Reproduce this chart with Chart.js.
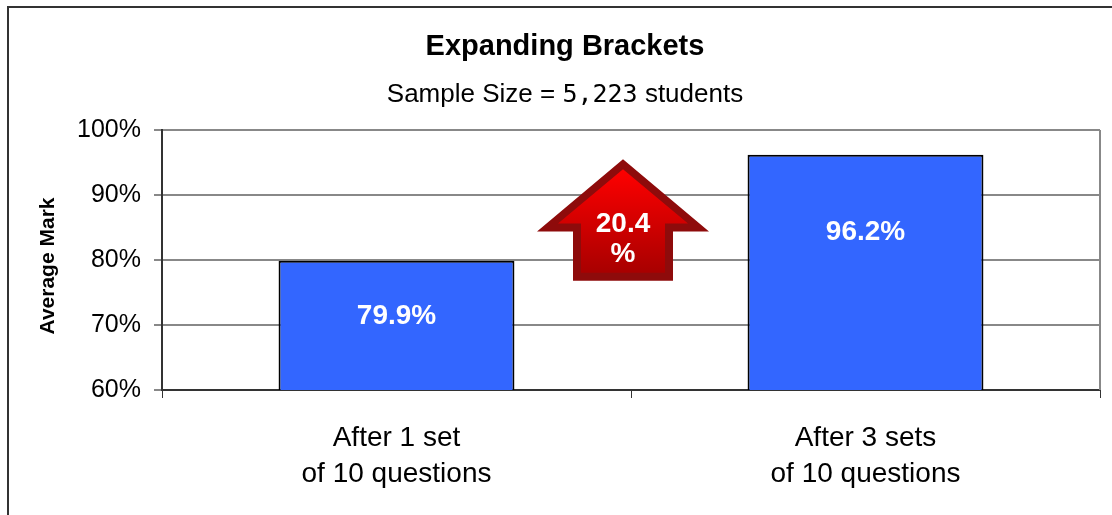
<!DOCTYPE html>
<html>
<head>
<meta charset="utf-8">
<script src="https://cdn.jsdelivr.net/npm/chart.js@4/dist/chart.umd.min.js"></script>
<style>
  html, body { margin: 0; padding: 0; background: #fff; }
  #wrap { width: 1112px; height: 515px; position: relative; }
</style>
</head>
<body>
<div id="wrap"><canvas id="myChart"></canvas></div>
<script>
// data
const categories = [['After 1 set', 'of 10 questions'], ['After 3 sets', 'of 10 questions']];
const averageMark = [79.9, 96.2];
const yTicks = [60, 70, 80, 90, 100];
const chartTitle = 'Expanding Brackets';
const subtitleParts = ['Sample Size = ', '5,223', ' students'];

const SANS = '"Liberation Sans", Arial, sans-serif';

// подписи, рамка, стрелка
const extras = {
  id: 'extras',
  beforeDraw(chart) {
    const c = chart.ctx;
    c.save();
    c.fillStyle = '#fff';
    c.fillRect(0, 0, chart.width, chart.height);
    // outer frame
    c.strokeStyle = '#333';
    c.lineWidth = 2;
    c.beginPath();
    c.moveTo(8, chart.height + 2);
    c.lineTo(8, 7);
    c.lineTo(chart.width + 2, 7);
    c.stroke();
    c.restore();
  },
  afterDatasetsDraw(chart) {
    const c = chart.ctx;
    const x = chart.scales.x, y = chart.scales.y;
    const area = chart.chartArea;
    c.save();

    // right border of plot
    c.strokeStyle = '#888';
    c.lineWidth = 2;
    c.beginPath();
    c.moveTo(area.right, area.top);
    c.lineTo(area.right, area.bottom);
    c.stroke();

    // title
    c.fillStyle = '#000';
    c.textAlign = 'center';
    c.textBaseline = 'middle';
    c.font = 'bold 29px ' + SANS;
    c.fillText(chartTitle, 565, 47);

    // subtitle, number in a monospace face
    const fonts = ['26px ' + SANS, '25px "DejaVu Sans Mono", monospace', '26px ' + SANS];
    let total = 0;
    const widths = subtitleParts.map((t, i) => { c.font = fonts[i]; const w = c.measureText(t).width; total += w; return w; });
    let sx = 565 - total / 2;
    c.textAlign = 'left';
    subtitleParts.forEach((t, i) => { c.font = fonts[i]; c.fillText(t, sx, 95); sx += widths[i]; });

    // y axis title
    c.save();
    c.translate(48, 266);
    c.rotate(-Math.PI / 2);
    c.textAlign = 'center';
    c.font = 'bold 21px ' + SANS;
    c.fillText('Average Mark', 0, 0);
    c.restore();

    // value labels inside bars
    const labelAt = [71.4, 84.3];
    const meta = chart.getDatasetMeta(0);
    c.fillStyle = '#fff';
    c.textAlign = 'center';
    c.font = 'bold 28px ' + SANS;
    meta.data.forEach((bar, i) => {
      c.fillText(averageMark[i].toFixed(1) + '%', bar.x, y.getPixelForValue(labelAt[i]));
    });

    // up arrow with the relative gain
    const cx = x.getPixelForValue(0.5) - 8;
    const tip = y.getPixelForValue(95.5);
    const wing = y.getPixelForValue(84.4);
    const base = y.getPixelForValue(76.8);
    const arrow = (t, w, b, wh, sh) => {
      c.beginPath();
      c.moveTo(cx, t);
      c.lineTo(cx + wh, w);
      c.lineTo(cx + sh, w);
      c.lineTo(cx + sh, b);
      c.lineTo(cx - sh, b);
      c.lineTo(cx - sh, w);
      c.lineTo(cx - wh, w);
      c.closePath();
      c.fill();
    };
    c.fillStyle = '#8e0b0b';
    arrow(tip, wing, base, 86, 50);
    const g = c.createLinearGradient(0, tip + 10, 0, base - 8);
    g.addColorStop(0, '#ff0000');
    g.addColorStop(1, '#a80000');
    c.fillStyle = g;
    arrow(tip + 10, wing - 8, base - 8, 65, 42);

    const gain = ((averageMark[1] - averageMark[0]) / averageMark[0] * 100).toFixed(1);
    c.fillStyle = '#fff';
    c.font = 'bold 28px ' + SANS;
    c.fillText(gain, cx, 224);
    c.fillText('%', cx, 254);
    c.restore();
  }
};

const ctx = document.getElementById('myChart');
const myChart = new Chart(ctx, {
  type: 'bar',
  data: {
    labels: categories,
    datasets: [{
      label: 'Average Mark',
      data: averageMark,
      backgroundColor: '#3366ff',
      borderColor: '#000',
      borderWidth: 2,
      borderSkipped: false,
      barPercentage: 1,
      categoryPercentage: 0.503
    }]
  },
  options: {
    responsive: true,
    maintainAspectRatio: false,
    animation: false,
    layout: {
      padding: { top: 130, right: 12, left: 0, bottom: 0 }
    },
    plugins: {
      legend: { display: false },
      title: { display: false },
      tooltip: { enabled: false }
    },
    scales: {
      x: {
        grid: {
          offset: true,
          drawOnChartArea: false,
          tickColor: '#333',
          tickLength: 8
        },
        border: { color: '#333', width: 2 },
        ticks: {
          color: '#000',
          padding: 22,
          font: { family: SANS, size: 28, lineHeight: '36px' },
          maxRotation: 0
        },
        afterFit(scale) { scale.height = 125; }
      },
      y: {
        min: 60,
        max: 100,
        afterBuildTicks(scale) { scale.ticks = yTicks.map(v => ({ value: v })); },
        grid: {
          color: '#888',
          lineWidth: 2,
          tickColor: '#888',
          tickLength: 8
        },
        border: { color: '#333', width: 2 },
        ticks: {
          color: '#000',
          padding: 13,
          font: { family: SANS, size: 25 },
          callback: v => v + '%'
        },
        afterFit(scale) { scale.width = 162; }
      }
    }
  },
  plugins: [extras]
});
</script>
</body>
</html>
